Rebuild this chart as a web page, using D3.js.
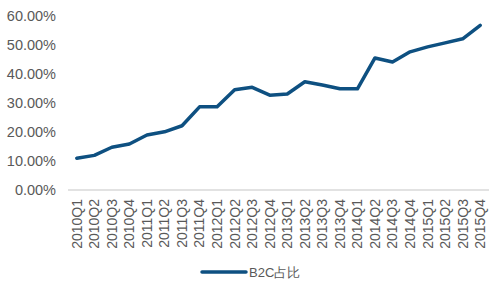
<!DOCTYPE html>
<html>
<head>
<meta charset="utf-8">
<script src="https://cdn.jsdelivr.net/npm/d3@7"></script>
<style>
  body { margin: 0; background: #fff; }
  text { font-family: "Liberation Sans", Arial, sans-serif; fill: #595959; }
</style>
</head>
<body>
<div id="chart"></div>
<script>
// quarters and B2C share (%)
const quarters = ["2010Q1","2010Q2","2010Q3","2010Q4","2011Q1","2011Q2","2011Q3","2011Q4",
  "2012Q1","2012Q2","2012Q3","2012Q4","2013Q1","2013Q2","2013Q3","2013Q4",
  "2014Q1","2014Q2","2014Q3","2014Q4","2015Q1","2015Q2","2015Q3","2015Q4"];
const b2cShare = [10.9, 11.9, 14.7, 15.8, 18.9, 20.0, 22.1, 28.6,
  28.6, 34.5, 35.3, 32.6, 33.0, 37.2, 36.1, 34.8,
  34.8, 45.4, 44.0, 47.5, 49.2, 50.6, 52.0, 56.6];
const yTicks = [0, 10, 20, 30, 40, 50, 60];
const seriesName = "B2C占比";

function lineChart() {
  const W = 494, H = 282;
  const margin = { top: 15.5, right: 5, bottom: 92, left: 68 };
  let width = W - margin.left - margin.right,
    height = H - margin.top - margin.bottom;

  const svg = d3.select("#chart").append("svg")
    .attr("width", W).attr("height", H);
  const g = svg.append("g")
    .attr("transform", "translate(" + margin.left + "," + margin.top + ")");

  const x = d3.scaleBand().domain(quarters).range([0, width]);
  const y = d3.scaleLinear().domain([0, 60]).range([height, 0]);

  // y labels
  g.selectAll(".ylab").data(yTicks).enter().append("text")
    .attr("x", -12).attr("y", d => y(d)).attr("dy", "0.35em")
    .attr("text-anchor", "end").style("font-size", "14.5px")
    .text(d => d.toFixed(2) + "%");

  // baseline
  g.append("line").attr("x1", 0).attr("x2", width)
    .attr("y1", height).attr("y2", height)
    .attr("stroke", "#d9d9d9").attr("stroke-width", 1.5);

  // x labels rotated
  g.selectAll(".xlab").data(quarters).enter().append("text")
    .attr("transform", d => "translate(" + (x(d) + x.bandwidth() / 2) + "," + (height + 9) + ") rotate(-90)")
    .attr("dy", "0.35em").attr("text-anchor", "end")
    .style("font-size", "14px")
    .text(d => d);

  const line = d3.line()
    .x((d, i) => x(quarters[i]) + x.bandwidth() / 2)
    .y(d => y(d));

  g.append("path").datum(b2cShare)
    .attr("d", line).attr("fill", "none")
    .attr("stroke", "#0e5081").attr("stroke-width", 3.5)
    .attr("stroke-linejoin", "round").attr("stroke-linecap", "round");

  // legend
  const lg = svg.append("g").attr("transform", "translate(202,272)");
  lg.append("line").attr("x1", 0).attr("x2", 44)
    .attr("stroke", "#0e5081").attr("stroke-width", 3.5).attr("stroke-linecap", "round");
  lg.append("text").attr("x", 47).attr("dy", "0.35em")
    .style("font-size", "13px").text(seriesName);
}

lineChart();
</script>
</body>
</html>
